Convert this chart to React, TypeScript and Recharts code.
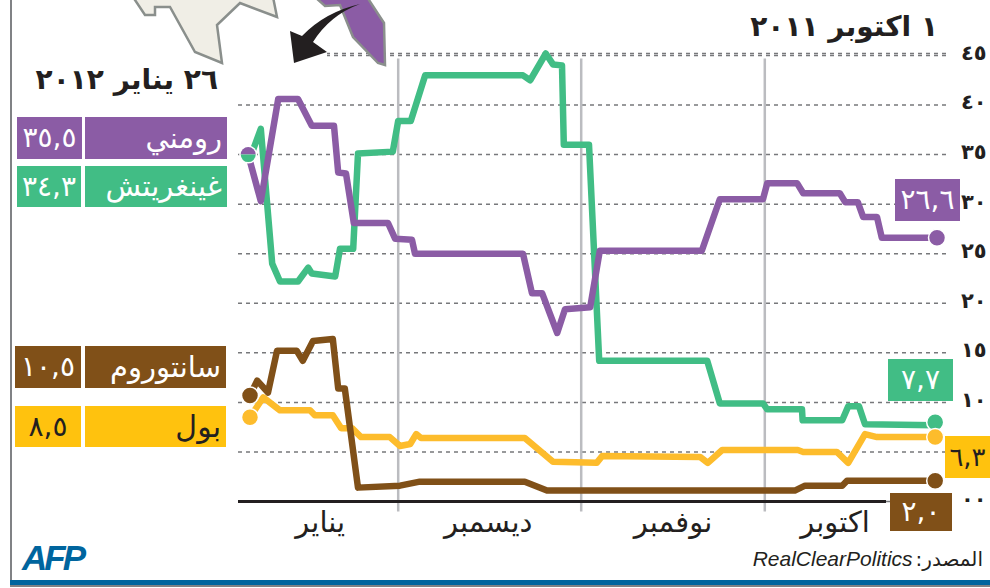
import { LineChart, Line, XAxis, YAxis, CartesianGrid, ReferenceLine, ReferenceDot } from 'recharts';

// days counted back from 1 Oct 2011 is at the right, 26 Jan 2012 at the left
const romneyDays = [116.3, 114.2, 111.3, 108, 105.7, 102, 101.3, 100, 98.7, 93, 91.8, 89, 88.5, 70.5, 69, 67.3, 64.8, 63.5, 59.3, 57.7, 40.7, 37.7, 30.5, 29.8, 24.8, 23.8, 17.7, 16.8, 14.7, 13.8, 11.5, 10.7, 1.5];
const romneyValues = [35, 30.3, 40.6, 40.6, 37.9, 37.9, 33.2, 33.1, 28.1, 28.1, 26.5, 26.4, 25, 25, 21, 21, 17, 19.4, 19.6, 25.3, 25.3, 30.5, 30.5, 32.1, 32.1, 31.1, 31.1, 30.2, 30.2, 28.7, 28.7, 26.6, 26.6];

const gingrichDays = [116.2, 114.2, 112.3, 111, 108, 106.3, 105.7, 101.8, 101, 98.8, 98, 92.2, 91.3, 89.2, 86.8, 70.5, 69.3, 66.7, 65.5, 64, 63.7, 59.5, 57.8, 39.8, 37.7, 30.5, 29.8, 24, 23.9, 17.3, 16.3, 14.5, 13.5, 1.8];
const gingrichValues = [34.3, 37.6, 24, 22.2, 22.2, 23.6, 23, 22.7, 25.5, 25.5, 35.1, 35.3, 38.4, 38.4, 43, 43, 42.5, 45.2, 44.1, 44, 36, 36, 14.2, 14.2, 9.9, 9.9, 9.3, 9.3, 8.2, 8.2, 9.6, 9.6, 7.8, 7.7];

const santorumDays = [116, 114.8, 113, 111.5, 108.2, 107.2, 105.5, 102.2, 101.3, 100.2, 98, 91, 87.7, 70.2, 66.5, 25.2, 23.5, 17.3, 16.5, 1.8];
const santorumValues = [10.7, 12.2, 11, 15.2, 15.2, 14.2, 16.2, 16.4, 11.4, 11.4, 1.4, 1.6, 2, 2, 1.1, 1.1, 1.6, 1.6, 2.1, 2.1];

const paulDays = [116, 113.8, 111, 106, 105.2, 102.2, 100.8, 99, 97.5, 92.7, 91, 89.3, 88.3, 87.5, 70.2, 65.5, 58.2, 57.3, 41, 39.7, 37.3, 24.7, 23.8, 18.2, 16.3, 13.5, 11.5, 1.8];
const paulValues = [8.5, 10.5, 9.2, 9.2, 8.7, 8.7, 7.4, 7.4, 6.5, 6.5, 5.6, 5.8, 6.8, 6.4, 6.4, 4, 3.9, 4.6, 4.5, 3.9, 5.2, 5.2, 5, 5, 3.9, 6.8, 6.5, 6.5];

const monthTicks = [104.3, 76.3, 45.5, 18.5];
const monthLabels = ['يناير', 'ديسمبر', 'نوفمبر', 'اكتوبر'];
const monthBoundaries = [30.2, 60.8, 91.3];
const yTicks = [0, 5, 10, 15, 20, 25, 30, 35, 40, 45];
// the 5 label sits behind the 6,3 box in the original, so it stays empty
const yLabels = ['٠٠', '', '١٠', '١٥', '٢٠', '٢٥', '٣٠', '٣٥', '٤٠', '٤٥'];

const PURPLE = '#8b5ca5';
const GREEN = '#41bd85';
const BROWN = '#805018';
const YELLOW = '#fdbc2c';
const BOX_YELLOW = '#ffc20e';
const INK = '#231f20';

const toPoints = (days: number[], values: number[]) => days.map((day, i) => ({ day, value: values[i] }));
const lastOf = (list: number[]) => list[list.length - 1];

function SplitDot({ cx, cy }: { cx?: number; cy?: number }) {
  const r = 7.5;
  return (
    <g>
      <circle cx={cx} cy={cy} r={r + 1.5} fill="#fff" />
      <path d={`M${cx! - r},${cy} A${r},${r} 0 0 1 ${cx! + r},${cy} Z`} fill={PURPLE} />
      <path d={`M${cx! - r},${cy} A${r},${r} 0 0 0 ${cx! + r},${cy} Z`} fill={GREEN} />
    </g>
  );
}

function Box({ x, y, w, h, bg, color = '#fff', size = 28, align = 'center', pad = 0, spacing = 0, children }: any) {
  return (
    <div
      dir="rtl"
      style={{
        position: 'absolute', left: x, top: y, width: w, height: h, background: bg, color,
        fontSize: size, lineHeight: `${h}px`, textAlign: align, paddingRight: pad,
        boxSizing: 'border-box', letterSpacing: spacing, whiteSpace: 'nowrap', overflow: 'hidden',
      }}
    >
      {children}
    </div>
  );
}

function Title({ right, top, day, month, year, yearSpacing }: any) {
  return (
    <div
      dir="rtl"
      style={{ position: 'absolute', right, top, fontSize: 28, fontWeight: 700, color: INK, whiteSpace: 'nowrap', lineHeight: '32px' }}
    >
      <span style={{ letterSpacing: 3 }}>{day}</span> {month} <span style={{ letterSpacing: yearSpacing }}>{year}</span>
    </div>
  );
}

function MapInset() {
  return (
    <svg width={400} height={70} style={{ position: 'absolute', left: 0, top: 0 }}>
      <rect x={236} y={49} width={91} height={8} fill="#fff" />
      <polygon points="133,-3 145,15 155,15 155,7 170,7 195,52 222,63 217,25 240,3 277,17 273,-3" fill="#f0eee6" stroke="#8a8f8c" strokeWidth={2.5} />
      <polygon points="315,-3 325,6 340,5 353,37 378,63 385,65 384,23 367,-3" fill={PURPLE} stroke="#8a8f8c" strokeWidth={2.5} />
      <path d="M294,63 L290,31 L302,36 Q325,12 360,4 Q330,15 313,42 L327,52 Z" fill={INK} />
    </svg>
  );
}

export default function App() {
  return (
    <div style={{ position: 'absolute', left: 0, top: 0, width: 990, height: 588, overflow: 'hidden', background: '#fff', fontFamily: '"DejaVu Sans"' }}>
      <LineChart width={990} height={588} margin={{ top: 53.5, right: 0, bottom: 0, left: 238 }}>
        <CartesianGrid horizontal vertical={false} stroke="#77787b" strokeWidth={1.5} strokeDasharray="4 4" />
        <XAxis
          type="number"
          dataKey="day"
          reversed
          domain={[0, 118]}
          allowDataOverflow
          ticks={monthTicks}
          tickFormatter={(_v: number, i: number) => monthLabels[i]}
          axisLine={false}
          tickLine={false}
          tickSize={0}
          tickMargin={10}
          height={86.5}
          interval={0}
          tick={{ fontSize: 29, fill: INK }}
        />
        <YAxis
          orientation="right"
          type="number"
          domain={[0, 45]}
          ticks={yTicks}
          tickFormatter={(_v: number, i: number) => yLabels[i]}
          axisLine={false}
          tickLine={false}
          tickSize={0}
          tickMargin={15}
          width={44}
          interval={0}
          tick={{ fontSize: 21, fontWeight: 700, fill: INK, dy: -3 }}
        />
        {monthBoundaries.map((d) => (
          <ReferenceLine
            key={d}
            segment={[{ x: d, y: -1 }, { x: d, y: 44.7 }]}
            stroke="#bbbcc0"
            strokeWidth={2.5}
            ifOverflow="visible"
          />
        ))}
        <ReferenceLine segment={[{ x: 10, y: 0 }, { x: 118, y: 0 }]} stroke={INK} strokeWidth={3} ifOverflow="visible" />
        <Line data={toPoints(paulDays, paulValues)} dataKey="value" type="linear" stroke={YELLOW} strokeWidth={6.5} strokeLinejoin="round" dot={false} isAnimationActive={false} />
        <Line data={toPoints(santorumDays, santorumValues)} dataKey="value" type="linear" stroke={BROWN} strokeWidth={6.5} strokeLinejoin="round" dot={false} isAnimationActive={false} />
        <Line data={toPoints(gingrichDays, gingrichValues)} dataKey="value" type="linear" stroke={GREEN} strokeWidth={6.5} strokeLinejoin="round" dot={false} isAnimationActive={false} />
        <Line data={toPoints(romneyDays, romneyValues)} dataKey="value" type="linear" stroke={PURPLE} strokeWidth={6.5} strokeLinejoin="round" dot={false} isAnimationActive={false} />
        <ReferenceDot x={romneyDays[0]} y={romneyValues[0]} shape={SplitDot} ifOverflow="visible" />
        <ReferenceDot x={santorumDays[0]} y={santorumValues[0]} r={8.5} fill={BROWN} stroke="#fff" strokeWidth={1.5} />
        <ReferenceDot x={paulDays[0]} y={paulValues[0]} r={8.5} fill={YELLOW} stroke="#fff" strokeWidth={1.5} />
        <ReferenceDot x={lastOf(romneyDays)} y={lastOf(romneyValues)} r={8.5} fill={PURPLE} stroke="#fff" strokeWidth={1.5} />
        <ReferenceDot x={lastOf(gingrichDays)} y={lastOf(gingrichValues) + 0.3} r={8.5} fill={GREEN} stroke="#fff" strokeWidth={1.5} />
        <ReferenceDot x={lastOf(paulDays)} y={lastOf(paulValues)} r={8.5} fill={YELLOW} stroke="#fff" strokeWidth={1.5} />
        <ReferenceDot x={lastOf(santorumDays)} y={lastOf(santorumValues)} r={8.5} fill={BROWN} stroke="#fff" strokeWidth={1.5} />
      </LineChart>

      <MapInset />
      <div style={{ position: 'absolute', left: 10, top: 0, width: 2, height: 582, background: '#808285' }} />
      <div style={{ position: 'absolute', left: 10, top: 580, width: 980, height: 5, background: '#00659e' }} />
      <div style={{ position: 'absolute', left: 10, top: 585, width: 980, height: 2, background: '#808285' }} />

      <Title right={990 - 218} top={64} day="٢٦" month="يناير" year="٢٠١٢" yearSpacing={10} />
      <Title right={990 - 938} top={11} day="١" month="اكتوبر" year="٢٠١١" yearSpacing={8} />

      <Box x={85} y={117} w={142} h={42} bg={PURPLE} align="right" pad={5} size={29}>رومني</Box>
      <Box x={17} y={117} w={65} h={42} bg={PURPLE} spacing={3}>٣٥,٥</Box>
      <Box x={85} y={166} w={142} h={41} bg={GREEN} align="right" pad={5} size={29}>غينغريتش</Box>
      <Box x={17} y={166} w={64} h={41} bg={GREEN} spacing={3}>٣٤,٣</Box>
      <Box x={85} y={346} w={141} h={42} bg={BROWN} align="right" pad={5} size={29}>سانتوروم</Box>
      <Box x={15} y={346} w={66} h={42} bg={BROWN} spacing={3}>١٠,٥</Box>
      <Box x={85} y={406} w={141} h={41} bg={BOX_YELLOW} color={INK} align="right" pad={5} size={30}>بول</Box>
      <Box x={15} y={406} w={66} h={41} bg={BOX_YELLOW} color={INK} spacing={3}>٨,٥</Box>

      <Box x={895} y={179} w={65} h={42} bg={PURPLE} spacing={3}>٢٦,٦</Box>
      <Box x={888} y={359} w={65} h={42} bg={GREEN} spacing={3}>٧,٧</Box>
      <Box x={945} y={436} w={45} h={42} bg={BOX_YELLOW} color={INK} spacing={2} size={26}>٦,٣</Box>
      <Box x={890} y={493} w={62} h={38} bg={BROWN} spacing={3}>٢,٠</Box>

      <div style={{ position: 'absolute', left: 22, top: 538, fontFamily: '"Liberation Sans"', fontWeight: 700, fontStyle: 'italic', fontSize: 35, letterSpacing: -3, color: '#00659e' }}>AFP</div>
      <div style={{ position: 'absolute', right: 990 - 983, top: 547, display: 'flex', alignItems: 'baseline', gap: 3, whiteSpace: 'nowrap', color: INK }}>
        <span style={{ fontFamily: '"Liberation Sans"', fontStyle: 'italic', fontSize: 21 }}>RealClearPolitics</span>
        <span dir="rtl" style={{ fontSize: 20 }}>المصدر:</span>
      </div>
    </div>
  );
}
